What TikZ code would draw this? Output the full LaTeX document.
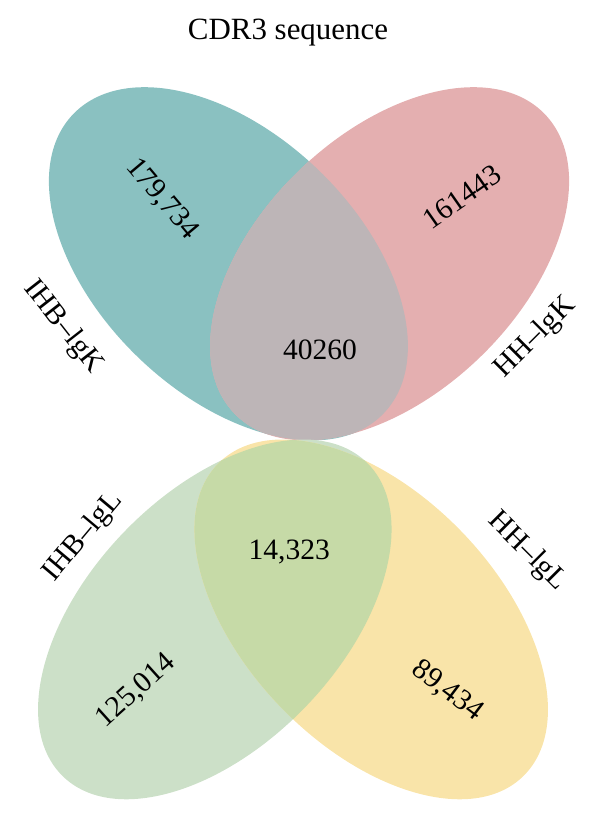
\documentclass[tikz,border=0pt]{standalone}
\usepackage{fontspec}
\setmainfont{Liberation Serif}
\usetikzlibrary{positioning}

\definecolor{tealk}{RGB}{138,193,193}
\definecolor{pinkk}{RGB}{228,175,176}
\definecolor{grayk}{RGB}{189,181,183}
\definecolor{greenl}{RGB}{204,224,200}
\definecolor{bothl}{RGB}{198,218,167}
\definecolor{yellowl}{RGB}{249,228,169}

\tikzset{
  numtext/.style={font=\fontsize{21}{25}\selectfont, inner sep=0pt},
  settext/.style={font=\fontsize{21}{25}\selectfont, inner sep=0pt},
  titletext/.style={font=\fontsize{22}{26}\selectfont, inner sep=0pt}
}

\begin{document}
\begin{tikzpicture}
\useasboundingbox (0,0) rectangle (15,20.525);

% IgK pair
\fill[tealk, rotate around={-44:(5.71,13.93)}] (5.71,13.93) ellipse (5.39cm and 3.25cm);
\fill[pinkk, rotate around={44:(9.74,13.93)}] (9.74,13.93) ellipse (5.39cm and 3.25cm);
\begin{scope}
\clip[rotate around={-44:(5.71,13.93)}] (5.71,13.93) ellipse (5.39cm and 3.25cm);
\fill[grayk, rotate around={44:(9.74,13.93)}] (9.74,13.93) ellipse (5.39cm and 3.25cm);
\end{scope}

% IgL pair
\fill[greenl, rotate around={46:(5.37,5.04)}] (5.37,5.04) ellipse (5.46cm and 3.15cm);
\fill[yellowl, rotate around={-46:(9.28,5.04)}] (9.28,5.04) ellipse (5.46cm and 3.15cm);
\begin{scope}
\clip[rotate around={46:(5.37,5.04)}] (5.37,5.04) ellipse (5.46cm and 3.15cm);
\fill[bothl, rotate around={-46:(9.28,5.04)}] (9.28,5.04) ellipse (5.46cm and 3.15cm);
\end{scope}

\node[titletext] (title) at (7.2,19.72) {CDR3 sequence};

\node[numtext, rotate=-50] (ihbkonly) at (4.05,15.55) {179,734};
\node[numtext, rotate=35] (hhkonly) at (11.55,15.6) {161443};
\node[numtext] (kboth) at (8.0,11.78) {40260};
\node[settext, rotate=-52] (ihbk) at (1.58,12.35) {IHB–lgK};
\node[settext, rotate=45] (hhk) at (13.38,12.08) {HH–lgK};

\node[numtext] (lboth) at (7.23,6.73) {14,323};
\node[numtext, rotate=42] (ihblonly) at (3.4,3.25) {125,014};
\node[numtext, rotate=-37] (hhlonly) at (11.18,3.25) {89,434};
\node[settext, rotate=50] (ihbl) at (2.08,7.1) {IHB–lgL};
\node[settext, rotate=-45] (hhl) at (13.18,6.73) {HH–lgL};
\end{tikzpicture}
\end{document}
